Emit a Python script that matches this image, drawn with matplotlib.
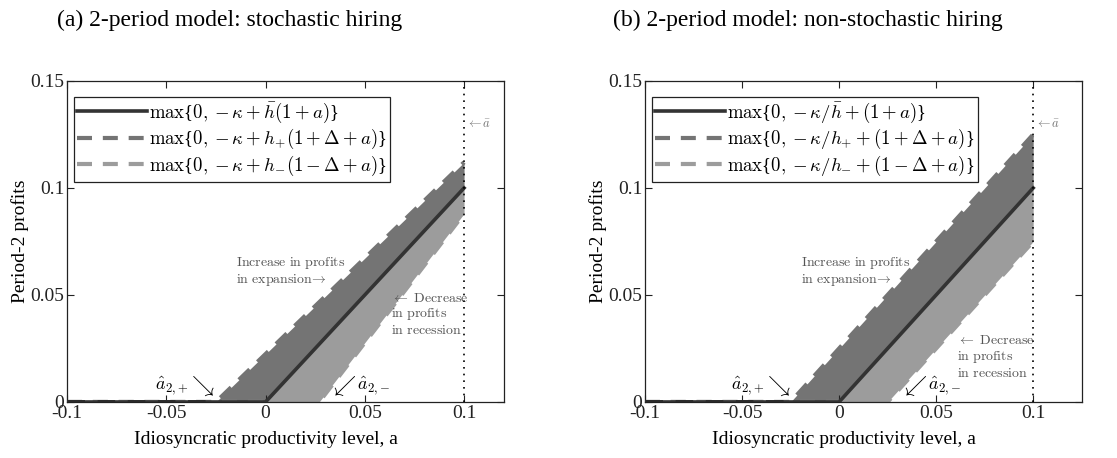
import matplotlib
matplotlib.use("Agg")
import matplotlib.pyplot as plt
import numpy as np

plt.rcParams["font.family"] = ["Liberation Serif", "DejaVu Serif"]
plt.rcParams["mathtext.fontset"] = "cm"

# period-2 profits at the kinks of each piecewise-linear curve
a_stoch = [-0.1, -0.025, 0.0, 0.027, 0.1]
pi_bar_stoch = [0.0, 0.0, 0.0, 0.027, 0.1]
pi_plus_stoch = [0.0, 0.0, 0.0224, 0.0466, 0.112]
pi_minus_stoch = [0.0, 0.0, 0.0, 0.0, 0.088]

a_nonstoch = [-0.1, -0.025, 0.0, 0.025, 0.1]
pi_bar_nonstoch = [0.0, 0.0, 0.0, 0.025, 0.1]
pi_plus_nonstoch = [0.0, 0.0, 0.025, 0.05, 0.125]
pi_minus_nonstoch = [0.0, 0.0, 0.0, 0.0, 0.075]

a_max = 0.1
xlims = [0.12, 0.125]

titles = ["(a) 2-period model: stochastic hiring",
          "(b) 2-period model: non-stochastic hiring"]
# braces kept outside mathtext so they stay text-sized
labels_stoch = [r"$\max${$0,-\kappa+\bar{h}(1+a)$}",
                r"$\max${$0,-\kappa+h_{+}(1+\Delta+a)$}",
                r"$\max${$0,-\kappa+h_{-}(1-\Delta+a)$}"]
labels_nonstoch = [r"$\max${$0,-\kappa/\bar{h}+(1+a)$}",
                   r"$\max${$0,-\kappa/h_{+}+(1+\Delta+a)$}",
                   r"$\max${$0,-\kappa/h_{-}+(1-\Delta+a)$}"]

xticks = [-0.1, -0.05, 0, 0.05, 0.1]
xticklabels = ["-0.1", "-0.05", "0", "0.05", "0.1"]
yticks = [0, 0.05, 0.1, 0.15]
yticklabels = ["0", "0.05", "0.1", "0.15"]

C_BAR = "#333333"
C_PLUS = "#747474"
C_MINUS = "#9c9c9c"
C_TXT = "#555555"

fig = plt.figure(figsize=(11.17, 4.58), dpi=100)
ax1 = fig.add_axes([0.060, 0.1223, 0.391, 0.7009])
ax2 = fig.add_axes([0.5774, 0.1223, 0.391, 0.7009])

panels = [
    (ax1, a_stoch, pi_bar_stoch, pi_plus_stoch, pi_minus_stoch, labels_stoch,
     xlims[0], dict(inc=(-0.015, 0.061), dec=(0.063, 0.041),
                    ap=(-0.0556, -0.032), am=(0.039, 0.046))),
    (ax2, a_nonstoch, pi_bar_nonstoch, pi_plus_nonstoch, pi_minus_nonstoch,
     labels_nonstoch, xlims[1],
     dict(inc=(-0.0196, 0.061), dec=(0.061, 0.021),
          ap=(-0.0557, -0.0315), am=(0.0387, 0.046))),
]

for ax, a, pb, pp, pm, labs, xr, pos in panels:
    a = np.array(a)
    ax.fill_between(a, pb, pp, color=C_PLUS, lw=0, zorder=1)
    ax.fill_between(a, pm, pb, color=C_MINUS, lw=0, zorder=1)
    l1, = ax.plot(a, pb, color=C_BAR, lw=2.6, zorder=3, label=labs[0])
    l2, = ax.plot(a, pp, color=C_PLUS, lw=3, dashes=(3.6, 2.6), zorder=2,
                  label=labs[1])
    l3, = ax.plot(a, pm, color=C_MINUS, lw=3, dashes=(3.6, 2.6), zorder=2,
                  label=labs[2])
    # flat stretch of the expansion curve shows as dark dashes on the floor
    ax.plot(a[:2], pp[:2], color="#2a2a2a", lw=3.5, dashes=(3.6, 2.6),
            zorder=4)
    ax.axvline(a_max, color="black", ls=(0, (1, 3)), lw=1.2, zorder=4)

    ax.text(a_max + 0.001, 0.130, r"$\leftarrow\bar{a}$", color="#777777",
            fontsize=9, va="center", ha="left")

    ix, iy = pos["inc"]
    ax.text(ix, iy, "$\\mathrm{Increase\\ in\\ profits}$\n"
            "$\\mathrm{in\\ expansion}\\!\\rightarrow$",
            color=C_TXT, fontsize=10, va="center", ha="left",
            linespacing=1.15)
    dx, dy = pos["dec"]
    ax.text(dx, dy, "$\\leftarrow\\ \\mathrm{Decrease}$\n"
            "$\\mathrm{in\\ profits}$\n$\\mathrm{in\\ recession}$",
            color=C_TXT, fontsize=10, va="center", ha="left",
            linespacing=1.15)

    apx, arrx = pos["ap"]
    ax.text(apx, 0.0075, r"$\hat{a}_{2,\!+}$", fontsize=13, va="center",
            ha="left")
    ax.text(arrx, 0.0075, r"$\searrow$", fontsize=16, va="center",
            ha="center")
    arrx2, amx = pos["am"]
    ax.text(arrx2, 0.0075, r"$\swarrow$", fontsize=16, va="center",
            ha="center")
    ax.text(amx, 0.0075, r"$\hat{a}_{2,\!-}$", fontsize=13, va="center",
            ha="left")

    ax.set_xlim(-0.1, xr)
    ax.set_ylim(0, 0.15)
    ax.set_xticks(xticks)
    ax.set_xticklabels(xticklabels)
    ax.set_yticks(yticks)
    ax.set_yticklabels(yticklabels)
    ax.tick_params(direction="in", top=True, right=True, length=5,
                   width=0.8, labelsize=14, pad=2, colors="#222222")
    for s in ax.spines.values():
        s.set_linewidth(0.9)
        s.set_color("#222222")
    ax.set_ylabel("Period-2 profits", fontsize=14)
    ax.set_xlabel("Idiosyncratic productivity level, a", fontsize=14)
    ax.xaxis.set_label_coords(0.455, -0.09)
    ax.yaxis.set_label_coords(-0.087, 0.5)

    leg = ax.legend(handles=[l1, l2, l3], loc="upper left",
                    bbox_to_anchor=(0.0, 0.97), fontsize=13.5,
                    handlelength=3.7, handletextpad=0.1,
                    labelspacing=0.12, borderpad=0.2, borderaxespad=0.35,
                    fancybox=False, framealpha=1)
    leg.get_frame().set_edgecolor("#222222")
    leg.get_frame().set_linewidth(0.9)

fig.text(0.206, 0.955, titles[0], fontsize=17, ha="center", va="center")
fig.text(0.723, 0.955, titles[1], fontsize=17, ha="center", va="center")

fig.savefig("out.png", dpi=100)
